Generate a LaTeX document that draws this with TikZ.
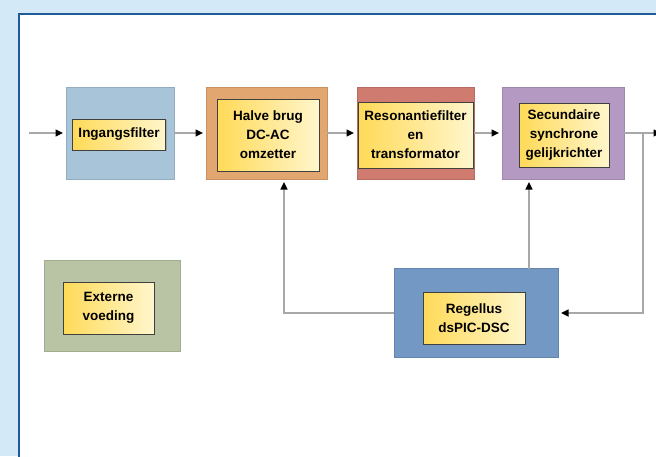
\documentclass[tikz,border=0pt]{standalone}
\usepackage{fontspec}
\setmainfont{Liberation Sans}
\usetikzlibrary{arrows.meta,shadows}

\definecolor{pageblue}{HTML}{D3E9F8}
\definecolor{frameblue}{HTML}{1F5B98}
\definecolor{boxsteel}{HTML}{A8C4D9}
\definecolor{boxtan}{HTML}{E2A670}
\definecolor{boxsalmon}{HTML}{CF7B70}
\definecolor{boxlilac}{HTML}{B49AC2}
\definecolor{boxblue}{HTML}{7398C4}
\definecolor{boxsage}{HTML}{B8C4A4}
\definecolor{yellowdeep}{HTML}{FFDA58}
\definecolor{yellowpale}{HTML}{FFF6CC}
\definecolor{linegray}{HTML}{A8A8A8}

\tikzset{
  outerbox/.style={rectangle, inner sep=0pt, outer sep=0pt, draw=#1!88!black, line width=0.5pt, fill=#1},
  innerbox/.style={rectangle, inner sep=0pt, outer sep=0pt, draw=black!75, line width=0.8pt,
    left color=yellowdeep, right color=yellowpale, align=center,
    drop shadow={shadow xshift=1pt, shadow yshift=-1.2pt, fill=black!45, opacity=0.6},
    font=\bfseries\fontsize{13.5}{19}\selectfont},
  conn/.style={draw=linegray, line width=1.6pt,
    -{Triangle[length=7.5pt,width=7pt,color=black]}, shorten >=3pt},
}

\begin{document}
\begin{tikzpicture}[x=1pt,y=-1pt]
\useasboundingbox (0,0) rectangle (656,456);
\clip (0,0) rectangle (656,456);

% page and panel
\fill[pageblue] (0,0) rectangle (656,456);
\fill[white] (19,14) rectangle (700,500);
\draw[frameblue, line width=2pt] (19,500) -- (19,14) -- (700,14);

% main chain
\node[outerbox=boxsteel, minimum width=108pt, minimum height=92pt] (inf) at (120,133) {};
\node[innerbox, minimum width=93pt, minimum height=31pt] (inft) at (119,134.5) {Ingangsfilter};

\node[outerbox=boxtan, minimum width=121pt, minimum height=92pt] (hb) at (266.5,133) {};
\node[innerbox, minimum width=102pt, minimum height=72pt] (hbt) at (268,135) {Halve brug\\DC-AC\\omzetter};

\node[outerbox=boxsalmon, minimum width=117pt, minimum height=92pt] (res) at (415.5,133) {};
\node[innerbox, minimum width=115pt, minimum height=66pt] (rest) at (415.5,135) {Resonantiefilter\\en\\transformator};

\node[outerbox=boxlilac, minimum width=122pt, minimum height=92pt] (sec) at (563,133) {};
\node[innerbox, minimum width=90pt, minimum height=64pt] (sect) at (564,135) {Secundaire\\synchrone\\gelijkrichter};

% control loop
\node[outerbox=boxblue, minimum width=164pt, minimum height=89pt] (reg) at (476,313) {};
\node[innerbox, minimum width=102pt, minimum height=52pt] (regt) at (474,318) {Regellus\\dsPIC-DSC};

% auxiliary supply
\node[outerbox=boxsage, minimum width=136pt, minimum height=91pt] (ext) at (112,305.5) {};
\node[innerbox, minimum width=91pt, minimum height=52pt] (extt) at (108.5,308) {Externe\\voeding};

% connectors
\coordinate (in) at (29,133);
\coordinate (out) at (661,133);
\coordinate (br) at (643,133);

\draw[conn] (in) -- (inf.west);
\draw[conn] (inf.east) -- (hb.west);
\draw[conn] (hb.east) -- (res.west);
\draw[conn] (res.east) -- (sec.west);
\draw[conn, shorten >=0pt] (sec.east) -- (out);
\draw[conn] (br) |- (reg.east);
\draw[conn] (reg.west) -| ([xshift=17.5pt]hb.south);
\draw[conn] ([xshift=53pt]reg.north) -- ([xshift=-34pt]sec.south);
\end{tikzpicture}
\end{document}
